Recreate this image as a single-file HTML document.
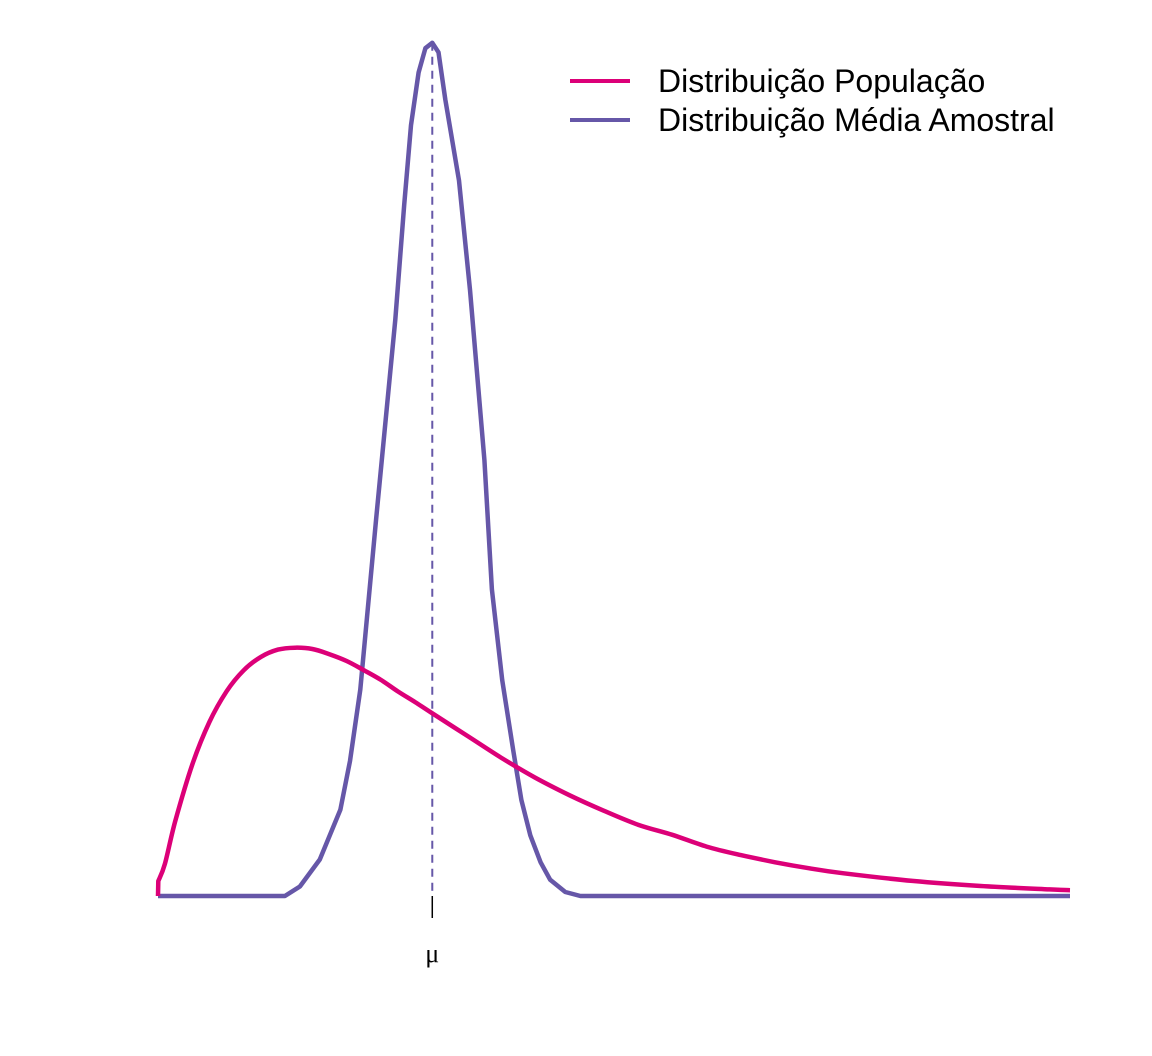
<!DOCTYPE html>
<html><head><meta charset="utf-8"><style>
html,body{margin:0;padding:0;background:#fff;}
svg{display:block;font-family:"Liberation Sans",sans-serif;}
</style></head><body>
<svg id="chart" width="1152" height="1056" viewBox="0 0 1152 1056">
<g id="plot"></g>
<g>
  <line x1="570" y1="81" x2="630" y2="81" stroke="#DC0078" stroke-width="4"/>
  <text x="658" y="92" font-size="32" fill="#000">Distribuição População</text>
  <line x1="570" y1="120" x2="630" y2="120" stroke="#6657A8" stroke-width="4"/>
  <text x="658" y="131" font-size="32" fill="#000">Distribuição Média Amostral</text>
</g>
</svg>
<script>
const popX = [0,0.005,0.1,0.25,0.5,0.75,1,1.25,1.5,1.75,2,2.25,2.5,2.75,3,3.25,3.5,3.75,4,4.5,5,5.5,6,6.5,7,7.5,8,8.5,9,9.5,10,11,12,13,13.3];
const popY = [0,0.011,0.0238,0.0551,0.0974,0.1289,0.1516,0.1672,0.1771,0.1825,0.1839,0.1830,0.1791,0.1741,0.1673,0.1601,0.1515,0.1436,0.1353,0.1190,0.1026,0.0877,0.0747,0.0632,0.0528,0.0453,0.0366,0.0303,0.0250,0.0205,0.0168,0.0112,0.0074,0.0049,0.0043];
const meanX = [0,1.85,2.07,2.36,2.66,2.8,2.95,3.18,3.46,3.59,3.69,3.8,3.9,4.0,4.09,4.19,4.39,4.55,4.76,4.87,5.02,5.18,5.3,5.43,5.58,5.72,5.94,6.16,13.3];
const meanY = [0,0,0.007,0.027,0.064,0.1,0.153,0.279,0.427,0.512,0.571,0.61,0.628,0.632,0.625,0.59,0.53,0.449,0.323,0.227,0.16,0.108,0.071,0.045,0.025,0.012,0.003,0,0];
const muValue = [4];
const muLabel = ["μ"];

const NS = "http://www.w3.org/2000/svg";
const sx = v => 158 + v * 68.57;
const sy = v => 896 - v * 1350;
const plot = document.getElementById("plot");

function linePath(xs, ys) {
  return xs.map((x, i) => (i ? "L" : "M") + sx(x).toFixed(1) + "," + sy(ys[i]).toFixed(1)).join("");
}
function smoothPath(xs, ys) {
  const P = xs.map((x, i) => [sx(x), sy(ys[i])]);
  let d = "M" + P[0][0].toFixed(1) + "," + P[0][1].toFixed(1) + "L" + P[1][0].toFixed(1) + "," + P[1][1].toFixed(1);
  for (let i = 1; i < P.length - 1; i++) {
    const p0 = P[i - 1], p1 = P[i], p2 = P[i + 1], p3 = P[Math.min(i + 2, P.length - 1)];
    const a = i === 1 ? p1 : p0;
    const c1 = [p1[0] + (p2[0] - a[0]) / 6, p1[1] + (p2[1] - a[1]) / 6];
    const c2 = [p2[0] - (p3[0] - p1[0]) / 6, p2[1] - (p3[1] - p1[1]) / 6];
    d += "C" + c1.map(v => v.toFixed(1)).join(",") + " " + c2.map(v => v.toFixed(1)).join(",") + " " + p2.map(v => v.toFixed(1)).join(",");
  }
  return d;
}
function addPath(d, color, w, name) {
  const p = document.createElementNS(NS, "path");
  p.setAttribute("d", d);
  p.setAttribute("fill", "none");
  p.setAttribute("stroke", color);
  p.setAttribute("stroke-width", w);
  p.setAttribute("stroke-linejoin", "round");
  
  
  plot.appendChild(p);
}

const peak = Math.max(...meanY);
const dl = document.createElementNS(NS, "line");
dl.setAttribute("x1", sx(muValue[0])); dl.setAttribute("x2", sx(muValue[0]));
dl.setAttribute("y1", sy(peak)); dl.setAttribute("y2", sy(0));
dl.setAttribute("stroke", "#6657A8"); dl.setAttribute("stroke-width", "2");
dl.setAttribute("stroke-dasharray", "8,6");


plot.appendChild(dl);

addPath(linePath(meanX, meanY), "#6657A8", 4.5, "sample-mean-curve");
addPath(smoothPath(popX, popY), "#DC0078", 4.5, "population-curve");

const tk = document.createElementNS(NS, "line");
tk.setAttribute("x1", sx(muValue[0])); tk.setAttribute("x2", sx(muValue[0]));
tk.setAttribute("y1", 896); tk.setAttribute("y2", 918);
tk.setAttribute("stroke", "#000"); tk.setAttribute("stroke-width", "1.5");


plot.appendChild(tk);

const tl = document.createElementNS(NS, "text");
tl.setAttribute("x", sx(muValue[0])); tl.setAttribute("y", 962);
tl.setAttribute("text-anchor", "middle"); tl.setAttribute("font-size", "26");
tl.setAttribute("font-family", "Liberation Serif, serif");
tl.textContent = muLabel[0];


plot.appendChild(tl);
</script>
</body></html>
